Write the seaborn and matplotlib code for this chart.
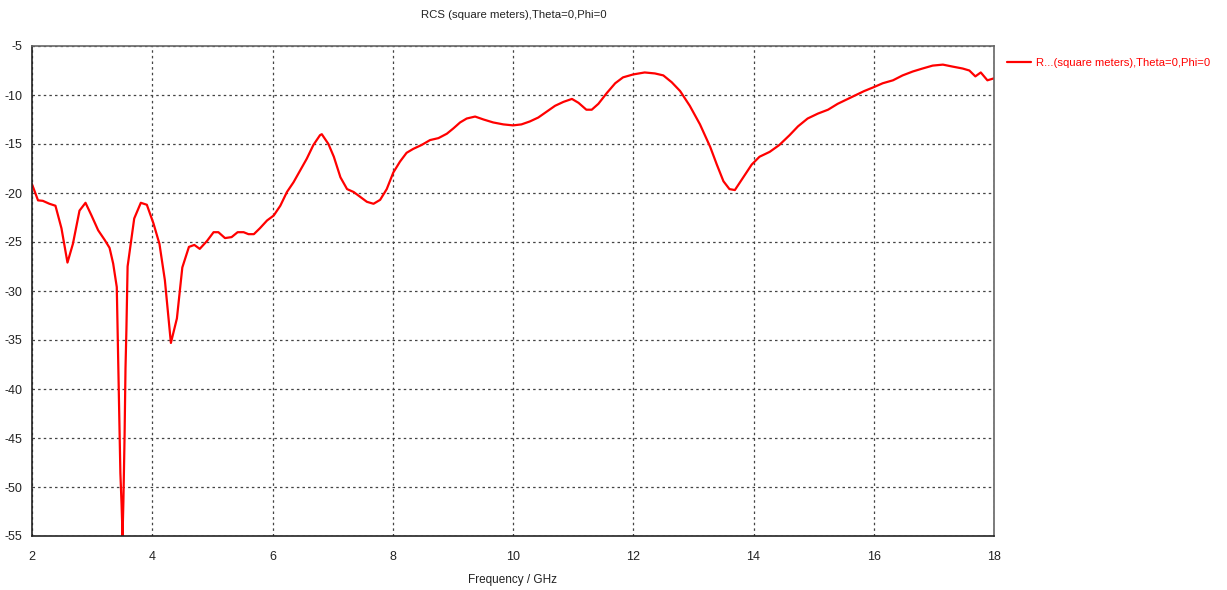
import matplotlib
matplotlib.use("Agg")
import matplotlib.pyplot as plt
import seaborn as sns
import pandas as pd
import numpy as np

freq = [2.0, 2.1, 2.18, 2.29, 2.39, 2.49, 2.59, 2.68, 2.79, 2.89, 2.99, 3.10, 3.21, 3.29, 3.35, 3.41,
        3.43, 3.45, 3.47, 3.49, 3.506, 3.52, 3.54, 3.555, 3.57, 3.59, 3.70, 3.81, 3.91, 4.02, 4.12,
        4.21, 4.31, 4.41, 4.50, 4.61, 4.70, 4.79, 4.91, 5.02, 5.10, 5.21, 5.32, 5.42, 5.52, 5.60,
        5.69, 5.79, 5.91, 6.02, 6.13, 6.24, 6.35, 6.46, 6.57, 6.68, 6.79, 6.82, 6.93, 7.02, 7.13,
        7.24, 7.35, 7.46, 7.57, 7.68, 7.79, 7.90, 8.01, 8.12, 8.23, 8.34, 8.48, 8.62, 8.76, 8.90,
        9.01, 9.12, 9.23, 9.37, 9.51, 9.67, 9.84, 10.0, 10.14, 10.28, 10.42, 10.56, 10.70, 10.84,
        10.98, 11.09, 11.22, 11.31, 11.42, 11.56, 11.70, 11.83, 12.0, 12.19, 12.36, 12.50, 12.64,
        12.78, 12.94, 13.11, 13.28, 13.39, 13.50, 13.60, 13.69, 13.83, 13.97, 14.10, 14.27, 14.43,
        14.60, 14.74, 14.90, 15.07, 15.24, 15.40, 15.57, 15.71, 15.84, 16.0, 16.15, 16.32, 16.48,
        16.65, 16.81, 16.98, 17.15, 17.31, 17.48, 17.59, 17.69, 17.78, 17.89, 18.0]
rcs = [-19.1, -20.75, -20.8, -21.1, -21.3, -23.6, -27.1, -25.2, -21.8, -21.0, -22.3, -23.8, -24.8, -25.6, -27.2, -29.6,
       -35.7, -42.3, -48.6, -51.8, -55.0, -51.5, -44.7, -37.9, -34.0, -27.5, -22.6, -21.0, -21.2, -23.1, -25.2,
       -28.9, -35.3, -32.8, -27.6, -25.5, -25.3, -25.7, -24.9, -24.0, -24.0, -24.6, -24.5, -24.0, -24.0, -24.2,
       -24.2, -23.6, -22.8, -22.3, -21.3, -19.9, -18.9, -17.7, -16.5, -15.1, -14.1, -14.0, -15.0, -16.3, -18.4,
       -19.6, -19.9, -20.4, -20.9, -21.1, -20.7, -19.6, -17.9, -16.8, -15.9, -15.5, -15.1, -14.6, -14.4, -13.95,
       -13.4, -12.8, -12.4, -12.2, -12.5, -12.8, -13.0, -13.1, -13.0, -12.7, -12.3, -11.7, -11.1, -10.7,
       -10.4, -10.8, -11.5, -11.5, -10.9, -9.8, -8.8, -8.2, -7.9, -7.7, -7.8, -8.0, -8.7,
       -9.6, -11.1, -13.0, -15.3, -17.1, -18.8, -19.6, -19.7, -18.4, -17.1, -16.3, -15.8, -15.1,
       -14.1, -13.2, -12.4, -11.9, -11.5, -10.9, -10.4, -10.0, -9.6, -9.2, -8.8, -8.5, -8.0,
       -7.6, -7.3, -7.0, -6.9, -7.1, -7.3, -7.5, -8.1, -7.7, -8.5, -8.3]

x_ticks = [2, 4, 6, 8, 10, 12, 14, 16, 18]
y_ticks = [-5, -10, -15, -20, -25, -30, -35, -40, -45, -50, -55]
title = "RCS (square meters),Theta=0,Phi=0"
legend_label = "R...(square meters),Theta=0,Phi=0"
xlabel = "Frequency / GHz"

df = pd.DataFrame({"freq": freq, "rcs": rcs, "series": legend_label})

sns.set_style("white")
plt.rcParams['font.family'] = ['Liberation Sans', 'DejaVu Sans']
plt.rcParams['axes.unicode_minus'] = False

fig = plt.figure(figsize=(12.27, 5.90), dpi=100)
ax = fig.add_axes([32/1227, 1 - 536/590, (994 - 32)/1227, (536 - 46)/590])

sns.lineplot(data=df, x="freq", y="rcs", hue="series", palette=["#ff0000"],
             linewidth=1.6, ax=ax, sort=False, legend=True)

ax.set_xlim(2, 18)
ax.set_ylim(-55, -5)
ax.set_xticks(x_ticks)
ax.set_yticks(y_ticks)
ax.set_xticklabels([str(v) for v in x_ticks])
ax.set_yticklabels([str(v) for v in y_ticks])
ax.tick_params(axis='both', labelsize=9, length=4, width=1, direction='out', colors='#222222')
ax.tick_params(axis='x', pad=7)
ax.tick_params(axis='y', pad=3)
ax.grid(True, linestyle=(0, (2, 2.5)), color='#444444', linewidth=0.9)
for s in ['left', 'bottom']:
    ax.spines[s].set_color('#222222')
    ax.spines[s].set_linewidth(1.2)
for s in ['top', 'right']:
    ax.spines[s].set_color('#666666')
    ax.spines[s].set_linewidth(1.2)

ax.set_xlabel(xlabel, fontsize=8.5, labelpad=8, color='#222222')
ax.set_ylabel("")
fig.text(514/1227, 1 - 15/590, title, ha='center', va='center', fontsize=8.2, color='#222222')

leg = ax.legend(loc='upper left', bbox_to_anchor=(1.005, 0.992), frameon=False, fontsize=8.1,
                handlelength=2.2, handletextpad=0.45, borderaxespad=0.3)
for t in leg.get_texts():
    t.set_color('#ff0000')

fig.savefig("out.png", dpi=100)
